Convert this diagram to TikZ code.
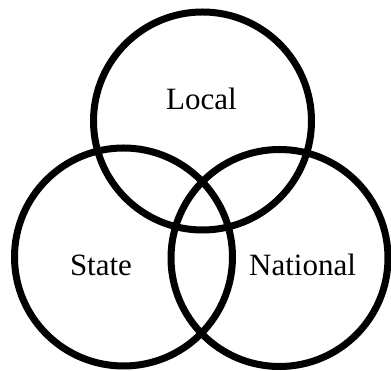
\documentclass[tikz,border=0pt]{standalone}
\usepackage{fontspec}
\setmainfont{Liberation Serif}
\begin{document}
\begin{tikzpicture}[x=1pt,y=1pt,
  ring/.style={line width=7pt, draw=black},
  lbl/.style={anchor=base, inner sep=0pt, font=\fontsize{31}{36}\selectfont}]
\useasboundingbox (0,0) rectangle (391,371);
\draw[ring] (202.5,250) circle[radius=109];
\draw[ring] (123.5,114) circle[radius=109];
\draw[ring] (279.5,113) circle[radius=108.5];
\node[lbl] (local) at (201.5,261) {Local};
\node[lbl] (state) at (101,95) {State};
\node[lbl] (national) at (302.5,95) {National};
\end{tikzpicture}
\end{document}
